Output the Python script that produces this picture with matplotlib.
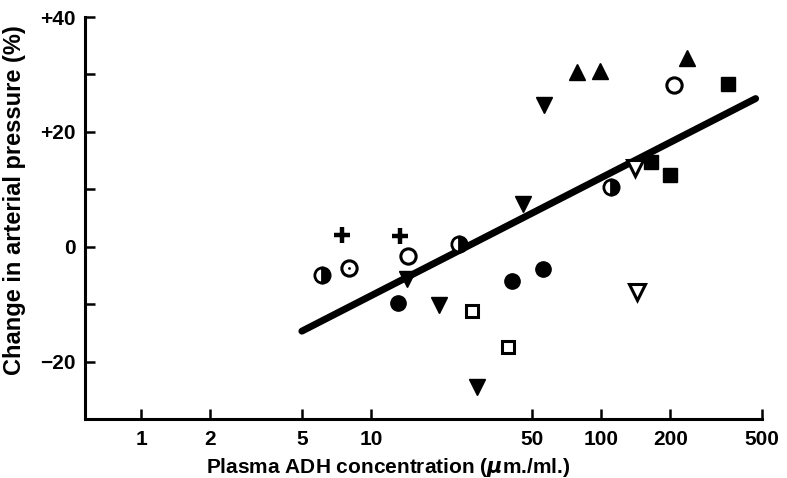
import matplotlib
matplotlib.use("Agg")
import matplotlib.pyplot as plt

plt.rcParams['font.family'] = ['Liberation Sans', 'DejaVu Sans']
plt.rcParams['font.weight'] = 'bold'

# data: (ADH concentration, change in pressure %)
plus_x = [7.5, 13.4]
plus_y = [2.1, 1.9]
half_x = [6.1, 24.0, 111]
half_y = [-4.9, 0.5, 10.4]
dot_circle_x = [8.0]
dot_circle_y = [-3.7]
open_circle_x = [14.4, 208]
open_circle_y = [-1.7, 28.2]
filled_circle_x = [13.1, 41.1, 56.1]
filled_circle_y = [-9.8, -5.9, -3.9]
filled_down_x = [14.3, 19.8, 28.8, 45.9, 56.7]
filled_down_y = [-5.6, -10.1, -24.5, 7.4, 24.7]
open_square_x = [27.4, 39.5]
open_square_y = [-11.2, -17.5]
filled_up_x = [78.4, 99.0, 236]
filled_up_y = [30.4, 30.6, 32.8]
open_down_x = [140.6, 144]
open_down_y = [13.7, -7.8]
filled_square_x = [165, 199.6, 355]
filled_square_y = [14.8, 12.5, 28.4]

fit_x = [5, 470]
fit_y = [-14.7, 25.8]

x_ticks = [1, 2, 5, 10, 50, 100, 200, 500]
y_ticks = [-30, -20, -10, 0, 10, 20, 30, 40]
y_labels = ['', '\u221220', '', '0', '', '+20', '', '+40']

fig = plt.figure(figsize=(7.87, 4.78), dpi=100)
ax = fig.add_axes([0.108, 0.1234, 0.860, 0.841])

ax.plot(fit_x, fit_y, color='black', lw=5, solid_capstyle='round', zorder=2)

ms = 11
ax.plot(plus_x, plus_y, '+', color='black', ms=12, mew=3.2, zorder=3)
ax.plot(half_x, half_y, 'o', ms=ms, mfc='black', mfcalt='white', mec='black',
        mew=2, fillstyle='right', zorder=3)
ax.plot(dot_circle_x, dot_circle_y, 'o', ms=ms, mfc='white', mec='black', mew=2.2, zorder=3)
ax.plot(dot_circle_x, dot_circle_y, '.', ms=2, color='black', zorder=4)
ax.plot(open_circle_x, open_circle_y, 'o', ms=ms, mfc='white', mec='black', mew=2.2, zorder=3)
ax.plot(filled_circle_x, filled_circle_y, 'o', ms=ms, color='black', zorder=3)
ax.plot(filled_down_x, filled_down_y, 'v', ms=12, color='black', zorder=3)
ax.plot(open_square_x, open_square_y, 's', ms=9, mfc='white', mec='black', mew=2.2, zorder=3)
ax.plot(filled_up_x, filled_up_y, '^', ms=12, color='black', zorder=3)
ax.plot(open_down_x, open_down_y, 'v', ms=11, mfc='white', mec='black', mew=2.2, zorder=3)
ax.plot(filled_square_x, filled_square_y, 's', ms=10, color='black', zorder=3)

ax.set_xscale('log')
ax.set_xlim(0.57, 500)
ax.set_ylim(-30, 40)
ax.set_xticks(x_ticks)
ax.set_xticklabels([str(t) for t in x_ticks])
ax.minorticks_off()
ax.set_yticks(y_ticks)
ax.set_yticklabels(y_labels)

for s in ['top', 'right']:
    ax.spines[s].set_visible(False)
for s in ['left', 'bottom']:
    ax.spines[s].set_linewidth(2.2)

ax.tick_params(axis='both', direction='in', length=7, width=1.8, labelsize=15)
ax.tick_params(axis='x', pad=8)
ax.tick_params(axis='y', pad=6.5)

ax.set_xlabel('Plasma ADH concentration ($\\mu$m./ml.)', fontsize=15, fontweight='bold')
ax.set_ylabel('Change in arterial pressure (%)', fontsize=17, fontweight='bold')
ax.xaxis.set_label_coords(0.448, -0.093)
ax.yaxis.set_label_coords(-0.087, 0.545)

fig.savefig('out.png', dpi=100)
